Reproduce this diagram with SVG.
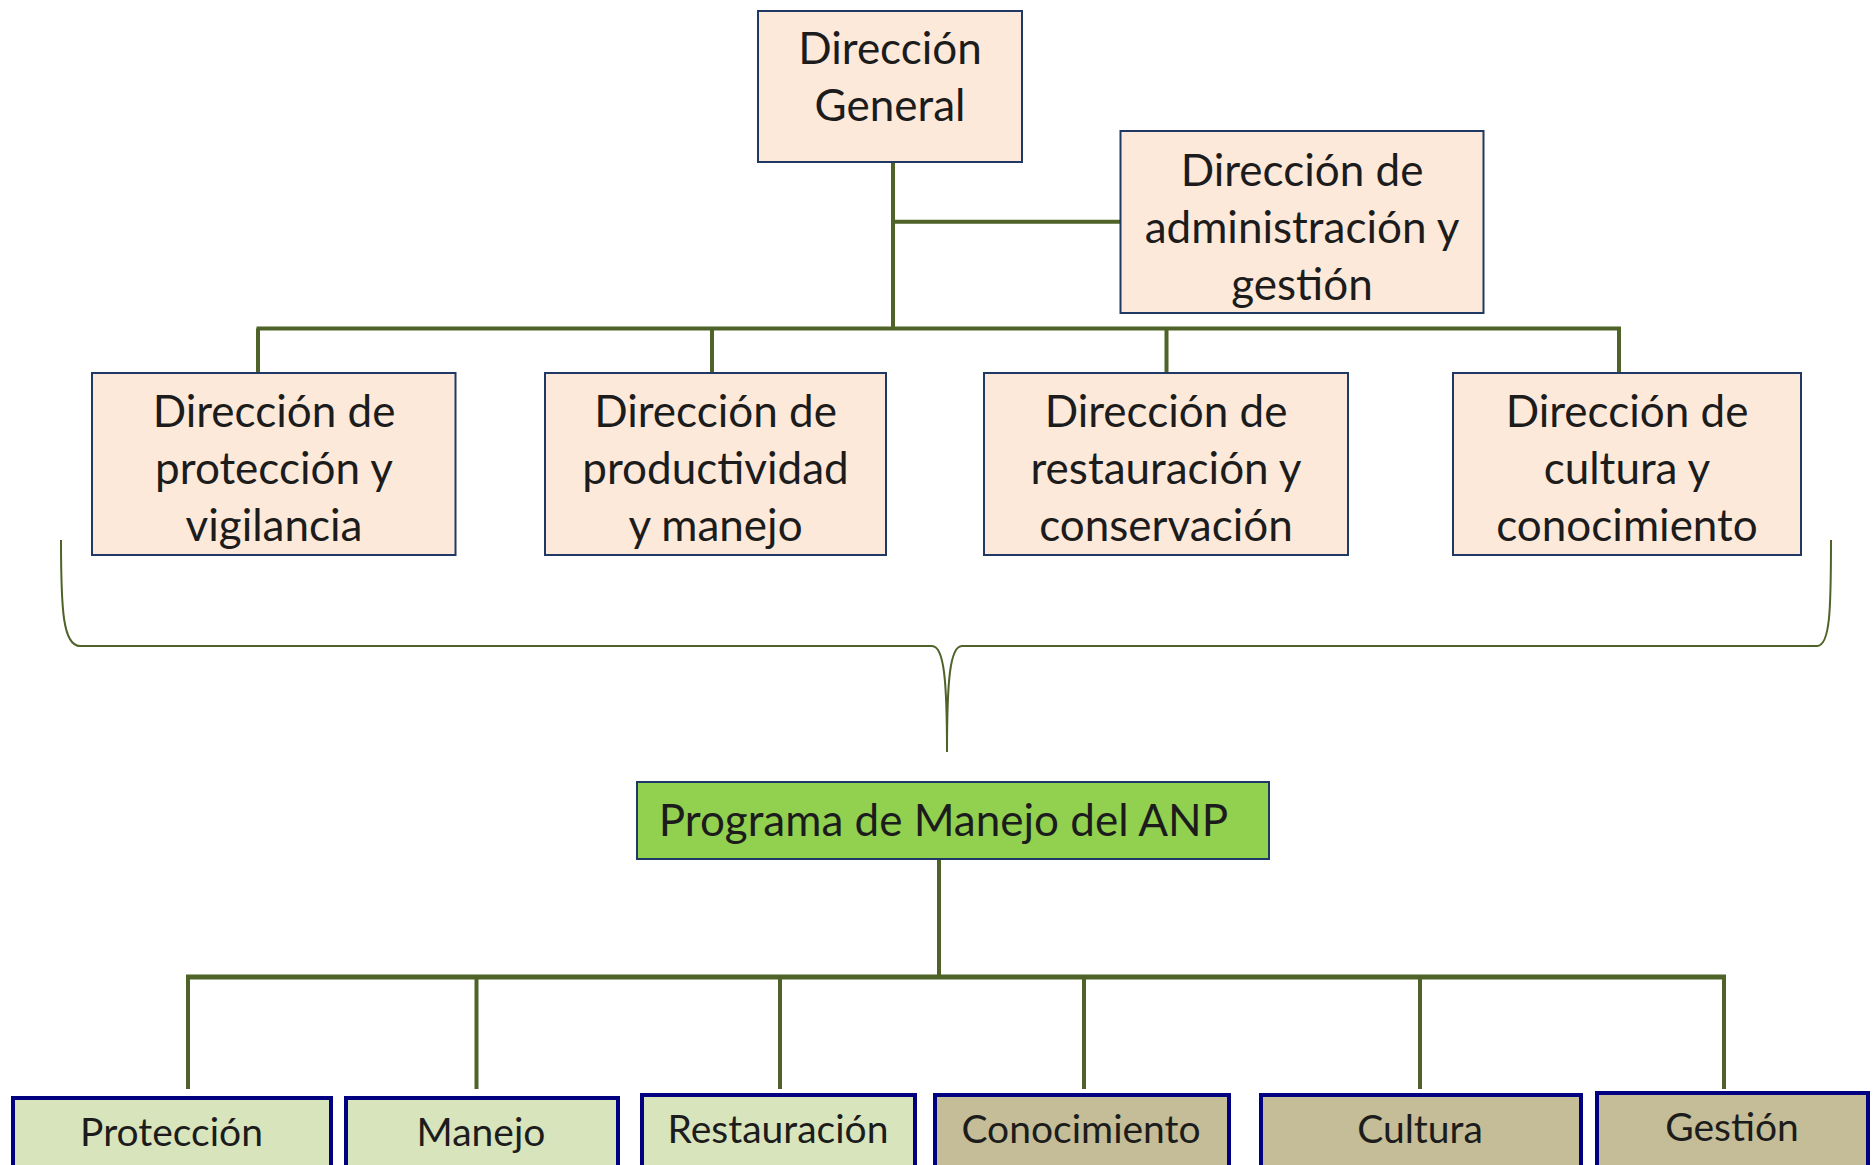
<svg xmlns="http://www.w3.org/2000/svg" width="1875" height="1165" viewBox="0 0 1875 1165">
<style>
.box{fill:#FDE9D9;stroke:#1F3864;stroke-width:2}
.prog{fill:#92D050;stroke:#1F3864;stroke-width:2}
.lg{fill:#D8E4BC;stroke:#000080;stroke-width:4}
.tan{fill:#C4BD97;stroke:#000080;stroke-width:4}
.t{font-family:Lato,"Liberation Sans",sans-serif;font-size:44px;fill:#1C1C1C;text-anchor:middle}
.s{font-family:Lato,"Liberation Sans",sans-serif;font-size:39px;fill:#1C1C1C;text-anchor:middle}
.ln{fill:none;stroke:#4F6228;stroke-width:4}
.br{fill:none;stroke:#4F6228;stroke-width:2}
</style>
<rect width="1875" height="1165" fill="#FFFFFF"/>
<g id="connectors">
<path class="ln" d="M893,162 V328.5 M893,221.7 H1120.5 M256.5,328.5 H1621 M258,328.5 V373 M712,328.5 V373 M1166.5,328.5 V373 M1619,328.5 V373"/>
<path class="br" d="M61,540 C61,610 63,646 80,646 L932,646 C944,646 947,680 947,752 C947,680 950,646 962,646 L1817,646 C1830,646 1831,610 1831,540"/>
<path class="ln" d="M939,859 V977"/>
<path class="ln" d="M186,977 H1726" style="stroke-width:5"/>
<path class="ln" d="M188,977 V1089 M476.5,977 V1089 M780,977 V1089 M1084,977 V1089 M1420,977 V1089 M1724,977 V1089"/>
</g>
<g id="n-general">
<rect class="box" x="758" y="11" width="264" height="151"/>
<text class="t" x="890" y="64">Dirección</text>
<text class="t" x="890" y="121">General</text>
</g>
<g id="n-admin">
<rect class="box" x="1120.5" y="131" width="363" height="182"/>
<text class="t" x="1302" y="186">Dirección de</text>
<text class="t" x="1302" y="243">administración y</text>
<text class="t" x="1302" y="300">gestión</text>
</g>
<g id="n-proteccion-vig">
<rect class="box" x="92" y="373" width="363.5" height="182"/>
<text class="t" x="274" y="427">Dirección de</text>
<text class="t" x="274" y="484">protección y</text>
<text class="t" x="274" y="541">vigilancia</text>
</g>
<g id="n-productividad">
<rect class="box" x="545" y="373" width="341" height="182"/>
<text class="t" x="715.5" y="427">Dirección de</text>
<text class="t" x="715.5" y="484">productividad</text>
<text class="t" x="715.5" y="541">y manejo</text>
</g>
<g id="n-restauracion-cons">
<rect class="box" x="984" y="373" width="364" height="182"/>
<text class="t" x="1166" y="427">Dirección de</text>
<text class="t" x="1166" y="484">restauración y</text>
<text class="t" x="1166" y="541">conservación</text>
</g>
<g id="n-cultura-con">
<rect class="box" x="1453" y="373" width="348" height="182"/>
<text class="t" x="1627" y="427">Dirección de</text>
<text class="t" x="1627" y="484">cultura y</text>
<text class="t" x="1627" y="541">conocimiento</text>
</g>
<g id="n-programa">
<rect class="prog" x="637" y="782" width="632" height="77"/>
<text class="t" x="943.5" y="836">Programa de Manejo del ANP</text>
</g>
<g id="n-proteccion">
<rect class="lg" x="13" y="1098" width="318" height="100"/>
<text class="s" x="171.5" y="1146">Protección</text>
</g>
<g id="n-manejo">
<rect class="lg" x="346" y="1098" width="272" height="100"/>
<text class="s" x="481" y="1146">Manejo</text>
</g>
<g id="n-restauracion">
<rect class="lg" x="642" y="1095" width="273" height="100"/>
<text class="s" x="778" y="1143">Restauración</text>
</g>
<g id="n-conocimiento">
<rect class="tan" x="935" y="1095" width="294" height="100"/>
<text class="s" x="1081" y="1143">Conocimiento</text>
</g>
<g id="n-cultura">
<rect class="tan" x="1261" y="1095" width="320" height="100"/>
<text class="s" x="1420" y="1143">Cultura</text>
</g>
<g id="n-gestion">
<rect class="tan" x="1597" y="1093" width="271" height="100"/>
<text class="s" x="1732" y="1141">Gestión</text>
</g>
</svg>
